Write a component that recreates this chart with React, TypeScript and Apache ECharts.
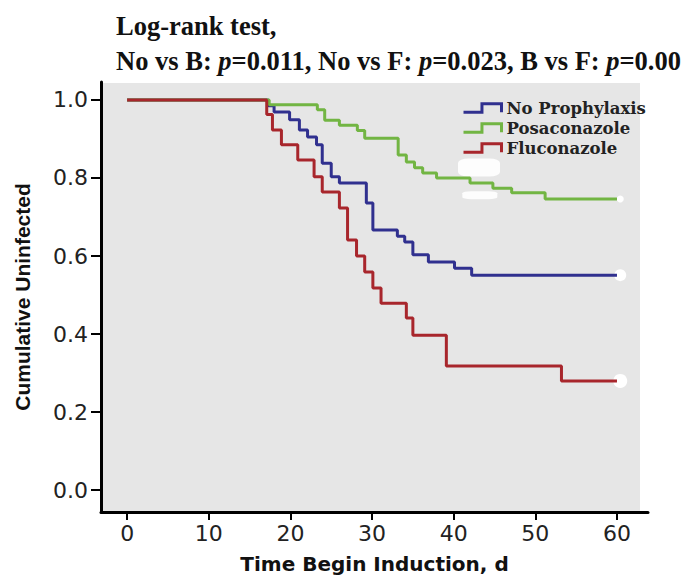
import React, { useEffect, useRef } from "react";
import * as echarts from "echarts";

const xTicks = [0, 10, 20, 30, 40, 50, 60];
const yTicks = [0, 0.2, 0.4, 0.6, 0.8, 1.0];

const seriesNames = ["No Prophylaxis", "Posaconazole", "Fluconazole"];
const seriesColors = ["#30308f", "#72b543", "#a8262c"];

const blueTimes = [0, 17.3, 18.0, 19.9, 21.1, 22.1, 23.2, 23.9, 25.0, 26.0, 29.3, 30.1, 33.1, 34.0, 35.0, 36.9, 40.1, 42.2, 60];
const blueSurv = [1.0, 0.985, 0.969, 0.949, 0.923, 0.905, 0.885, 0.838, 0.803, 0.787, 0.736, 0.667, 0.651, 0.636, 0.603, 0.585, 0.569, 0.551, 0.551];

const greenTimes = [0, 17.4, 23.3, 24.2, 26.0, 28.2, 29.1, 33.2, 34.2, 35.2, 36.2, 37.9, 42.0, 44.8, 47.1, 51.2, 60];
const greenSurv = [1.0, 0.988, 0.975, 0.948, 0.935, 0.922, 0.902, 0.859, 0.841, 0.826, 0.813, 0.8, 0.787, 0.774, 0.762, 0.746, 0.746];

const redTimes = [0, 17.1, 17.8, 18.9, 20.9, 22.9, 23.9, 26.0, 27.0, 28.1, 29.1, 30.1, 31.1, 34.2, 35.0, 39.1, 53.2, 60];
const redSurv = [1.0, 0.963, 0.923, 0.885, 0.846, 0.803, 0.764, 0.723, 0.641, 0.6, 0.559, 0.518, 0.479, 0.441, 0.397, 0.318, 0.28, 0.28];

// white censor marks at the ends of the curves
const censorTimes = [60.4, 60.4, 60.4];
const censorSurv = [0.746, 0.551, 0.28];
const censorSizes = [7, 12, 14];

// faded white censor marks near the Posaconazole curve
const blotTimes = [43.1, 43.2];
const blotSurv = [0.827, 0.756];
const blotSizes = [[42, 18], [35, 8]];

const titleLine1 = "Log-rank test,";

const legendIcon = "path://M0,9 L17,9 L17,1 L35,1 L35,9";

function pairs(ts: number[], ss: number[]) {
  return ts.map((t, i) => [t, ss[i]]);
}

export default function App() {
  const ref = useRef<HTMLDivElement>(null);
  useEffect(() => {
    if (!ref.current) return;
    const chart = echarts.init(ref.current, null, { renderer: "svg" });
    const serif = "Liberation Serif";
    const sans = "Liberation Sans";
    const bStyle = { fontFamily: serif, fontWeight: "bold", fontSize: 26.5, color: "#111", lineHeight: 30 };
    const dataSets = [pairs(blueTimes, blueSurv), pairs(greenTimes, greenSurv), pairs(redTimes, redSurv)];
    const order = [1, 0, 2];
    const option: any = {
      animation: false,
      backgroundColor: "#ffffff",
      title: [
        { text: titleLine1, left: 116, top: 11, padding: 0, textStyle: bStyle },
        {
          text: "{b|No vs B: }{i|p}{b|=0.011, No vs F: }{i|p}{b|=0.023, B vs F: }{i|p}{b|=0.00}",
          left: 116,
          top: 46,
          padding: 0,
          textStyle: {
            ...bStyle,
            rich: {
              b: bStyle,
              i: { ...bStyle, fontStyle: "italic" },
            },
          },
        },
      ],
      graphic: [
        {
          type: "rect",
          z: -1,
          silent: true,
          shape: { x: 102, y: 83, width: 538, height: 429 },
          style: { fill: "#e6e6e6" },
        },
      ],
      legend: {
        orient: "vertical",
        left: 462,
        top: 98,
        padding: 0,
        itemGap: 0,
        itemWidth: 38,
        itemHeight: 10,
        textStyle: { fontFamily: "DejaVu Serif", fontWeight: "bold", fontSize: 16.5, color: "#222", lineHeight: 20 },
        data: seriesNames.map((n, i) => ({
          name: n,
          icon: legendIcon,
          itemStyle: { color: "rgba(0,0,0,0)", borderColor: seriesColors[i], borderWidth: 3 },
        })),
      },
      grid: { left: 101, right: 40, top: 82, bottom: 68 },
      xAxis: {
        type: "value",
        min: -3.2,
        max: 63.8,
        name: "Time Begin Induction, d",
        nameLocation: "middle",
        nameGap: 42,
        nameTextStyle: { fontFamily: "DejaVu Sans", fontWeight: "bold", fontSize: 20, color: "#111" },
        axisLine: { onZero: false, lineStyle: { color: "#000", width: 3 } },
        axisTick: { customValues: xTicks, length: 8, lineStyle: { color: "#000", width: 2 } },
        axisLabel: { customValues: xTicks, margin: 10, fontFamily: "DejaVu Sans", fontSize: 22, color: "#222" },
        splitLine: { show: false },
      },
      yAxis: {
        type: "value",
        min: -0.056,
        max: 1.046,
        name: "Cumulative Uninfected",
        nameLocation: "middle",
        nameGap: 68,
        nameTextStyle: { fontFamily: sans, fontWeight: "bold", fontSize: 21, color: "#111" },
        axisLine: { onZero: false, lineStyle: { color: "#000", width: 3 } },
        axisTick: { customValues: yTicks, length: 10, lineStyle: { color: "#000", width: 2 } },
        axisLabel: {
          customValues: yTicks,
          margin: 13,
          fontFamily: "DejaVu Sans",
          fontSize: 22,
          color: "#222",
          formatter: (v: number) => v.toFixed(1),
        },
        splitLine: { show: false },
      },
      series: [
        {
          type: "scatter",
          name: "censor",
          silent: true,
          z: 1,
          data: censorTimes.map((t, i) => ({ value: [t, censorSurv[i]], symbolSize: censorSizes[i] })),
          itemStyle: { color: "#ffffff", opacity: 1 },
        },
        {
          type: "scatter",
          name: "blot",
          silent: true,
          z: 1,
          symbol: "roundRect",
          data: blotTimes.map((t, i) => ({ value: [t, blotSurv[i]], symbolSize: blotSizes[i] })),
          itemStyle: { color: "#ffffff", opacity: 0.9 },
        },
        ...order.map((i) => ({
          type: "line",
          name: seriesNames[i],
          step: "end",
          showSymbol: false,
          symbol: "none",
          z: 3 + i,
          data: dataSets[i],
          lineStyle: { color: seriesColors[i], width: 3 },
          itemStyle: { color: seriesColors[i] },
        })),
      ],
    };
    chart.setOption(option);
    return () => chart.dispose();
  }, []);
  return <div ref={ref} style={{ position: "absolute", left: 0, top: 0, width: 688, height: 580 }} />;
}
